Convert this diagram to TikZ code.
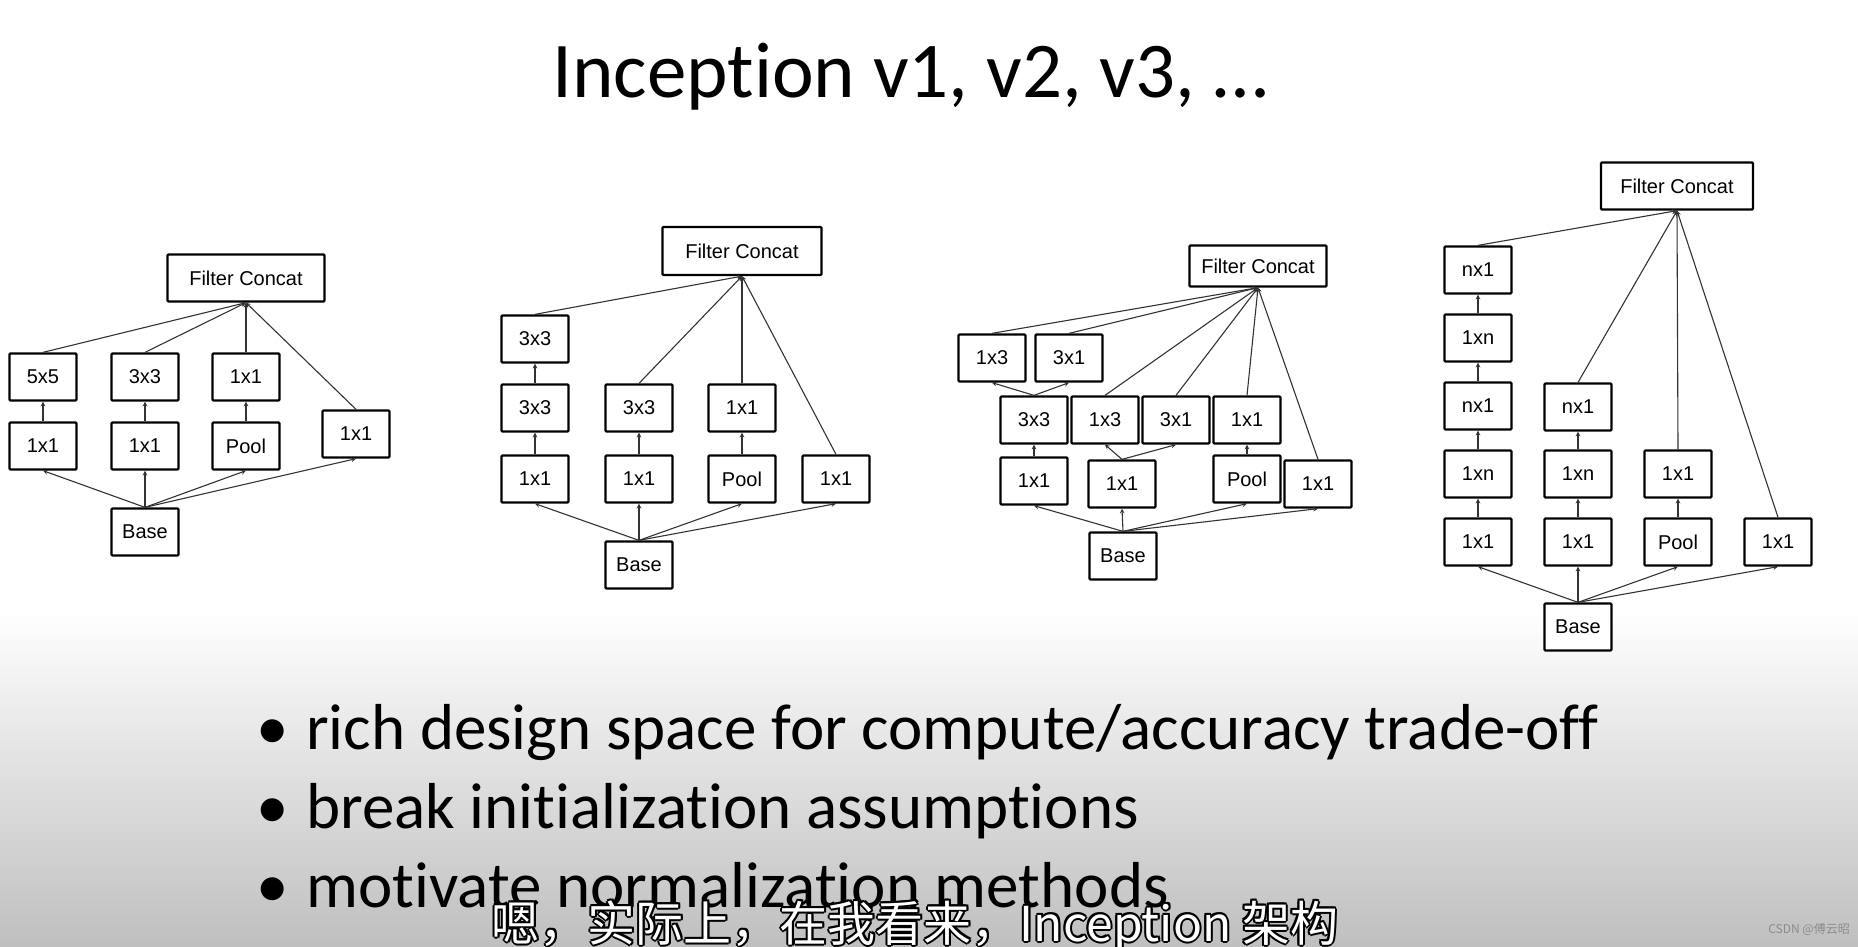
\documentclass[tikz,border=0pt]{standalone}
\usepackage{fontspec}
\setmainfont{Carlito}[Ligatures=NoCommon]
\newfontfamily\arialfont{Liberation Sans}
\newfontfamily\cjk{Noto Sans CJK SC}
\newcommand\fsz[1]{\fontsize{#1pt}{#1pt}\selectfont}
\begin{document}
\begin{tikzpicture}[x=1pt,y=-1pt,>=stealth,
  blk/.style={draw,line width=2.3pt,rounded corners=1pt,fill=white,inner sep=0pt,
    minimum width=67pt,minimum height=47pt,font=\arialfont\fsz{20}},
  cat/.style={blk,minimum width=157pt},
  wire/.style={->,line width=1.1pt,black!80},
  bullet/.style={anchor=base west,inner sep=0pt,font=\fsz{65}},
  sub/.style={anchor=base,inner sep=0pt,font=\cjk\fsz{48}}]
  % 背景
  \fill[white] (0,0) rectangle (1858,610);
  \shade[top color=white,bottom color=black!25] (0,610) rectangle (1858,946);
  \useasboundingbox (0,0) rectangle (1858,946);
  % 标题
  \node[anchor=base,inner sep=0pt,font=\fsz{79}] (title) at (910,97) {Inception v1, v2, v3, …};
  % v1
  \node[cat] (A-cat) at (246,278) {Filter Concat};
  \node[blk] (A-55) at (43,377) {5x5};
  \node[blk] (A-33) at (145,377) {3x3};
  \node[blk] (A-11t) at (246,377) {1x1};
  \node[blk] (A-11a) at (43,446) {1x1};
  \node[blk] (A-11b) at (145,446) {1x1};
  \node[blk] (A-pool) at (246,446) {Pool};
  \node[blk] (A-11r) at (356,434) {1x1};
  \node[blk] (A-base) at (145,532) {Base};
  \foreach \n in {11a,11b,pool,11r}
    \draw[wire] (A-base.north) -- (A-\n.south);
  \draw[wire] (A-11a) -- (A-55);
  \draw[wire] (A-11b) -- (A-33);
  \draw[wire] (A-pool) -- (A-11t);
  \foreach \n in {55,33,11t,11r}
    \draw[wire] (A-\n.north) -- (A-cat.south);
  % v2
  \node[cat,minimum width=159pt,minimum height=48pt] (B-cat) at (742,251) {Filter Concat};
  \node[blk] (B-33t) at (535,339) {3x3};
  \node[blk] (B-33m) at (535,408) {3x3};
  \node[blk] (B-33n) at (639,408) {3x3};
  \node[blk] (B-11t) at (742,408) {1x1};
  \node[blk] (B-11a) at (535,479) {1x1};
  \node[blk] (B-11b) at (639,479) {1x1};
  \node[blk] (B-pool) at (742,479) {Pool};
  \node[blk] (B-11r) at (836,479) {1x1};
  \node[blk] (B-base) at (639,565) {Base};
  \foreach \n in {11a,11b,pool,11r}
    \draw[wire] (B-base.north) -- (B-\n.south);
  \draw[wire] (B-11a) -- (B-33m);
  \draw[wire] (B-33m) -- (B-33t);
  \draw[wire] (B-11b) -- (B-33n);
  \draw[wire] (B-pool) -- (B-11t);
  \foreach \n in {33t,33n,11t,11r}
    \draw[wire] (B-\n.north) -- (B-cat.south);
  % v3
  \begin{scope}[every node/.append style={minimum width=58pt,minimum height=42pt,font=\arialfont\fsz{17}}]
    \node[cat,minimum width=137pt,minimum height=41pt] (C-cat) at (1258,266) {Filter Concat};
    \node[blk] (C-13t) at (992,358) {1x3};
    \node[blk] (C-31t) at (1069,358) {3x1};
    \node[blk] (C-33) at (1034,420) {3x3};
    \node[blk] (C-13) at (1105,420) {1x3};
    \node[blk] (C-31) at (1176,420) {3x1};
    \node[blk] (C-11m) at (1247,420) {1x1};
    \node[blk] (C-11a) at (1034,481) {1x1};
    \node[blk] (C-11b) at (1122,484) {1x1};
    \node[blk] (C-pool) at (1247,479) {Pool};
    \node[blk] (C-11r) at (1318,484) {1x1};
    \node[blk] (C-base) at (1123,556) {Base};
  \end{scope}
  \foreach \n in {11a,11b,pool,11r}
    \draw[wire] (C-base.north) -- (C-\n.south);
  \draw[wire] (C-11a) -- (C-33);
  \draw[wire] (C-33.north) -- (C-13t.south);
  \draw[wire] (C-33.north) -- (C-31t.south);
  \draw[wire] (C-11b.north) -- (C-13.south);
  \draw[wire] (C-11b.north) -- (C-31.south);
  \draw[wire] (C-pool) -- (C-11m);
  \foreach \n in {13t,31t,13,31,11m,11r}
    \draw[wire] (C-\n.north) -- (C-cat.south);
  % v4
  \begin{scope}[every node/.append style={minimum width=66pt,minimum height=46pt,font=\arialfont\fsz{19.5}}]
    \node[cat,minimum width=152pt] (D-cat) at (1677,186) {Filter Concat};
    % 左列：1x1 -> 1xn -> nx1 -> 1xn -> nx1
    \foreach \lbl [count=\i] in {1x1,1xn,nx1,1xn,nx1}
      \node[blk] (D-a\i) at (1478,{542-68*(\i-1)}) {\lbl};
    \node[blk] (D-b1) at (1578,542) {1x1};
    \node[blk] (D-b2) at (1578,474) {1xn};
    \node[blk] (D-b3) at (1578,407) {nx1};
    \node[blk] (D-c1) at (1678,542) {Pool};
    \node[blk] (D-c2) at (1678,474) {1x1};
    \node[blk] (D-d1) at (1778,542) {1x1};
    \node[blk] (D-base) at (1578,627) {Base};
  \end{scope}
  \foreach \n in {a1,b1,c1,d1}
    \draw[wire] (D-base.north) -- (D-\n.south);
  \foreach \i [evaluate=\i as \j using int(\i+1)] in {1,...,4}
    \draw[wire] (D-a\i) -- (D-a\j);
  \draw[wire] (D-b1) -- (D-b2);
  \draw[wire] (D-b2) -- (D-b3);
  \draw[wire] (D-c1) -- (D-c2);
  \foreach \n in {a5,b3,c2,d1}
    \draw[wire] (D-\n.north) -- (D-cat.south);
  % 要点
  \node[bullet] (pt1) at (256,749) {\makebox[50pt][l]{•}rich design space for compute/accuracy trade-off};
  \node[bullet] (pt2) at (256,828) {\makebox[50pt][l]{•}break initialization assumptions};
  \node[bullet] (pt3) at (256,907) {\makebox[50pt][l]{•}motivate normalization methods};
  % 字幕（黑边白字）
  \foreach \dx/\dy in {-2/0,2/0,0/-2,0/2,-1.5/-1.5,1.5/1.5,-1.5/1.5,1.5/-1.5}
    \node[sub,text=black] at ([shift={(\dx pt,\dy pt)}]915,941) {嗯，实际上，在我看来，Inception 架构};
  \node[sub,text=white] (subtitle) at (915,941) {嗯，实际上，在我看来，Inception 架构};
  % 水印
  \node[anchor=east,inner sep=0pt,font=\cjk\fsz{12},text=black!45] (mark) at (1850,930) {CSDN @傅云昭};
\end{tikzpicture}
\end{document}
